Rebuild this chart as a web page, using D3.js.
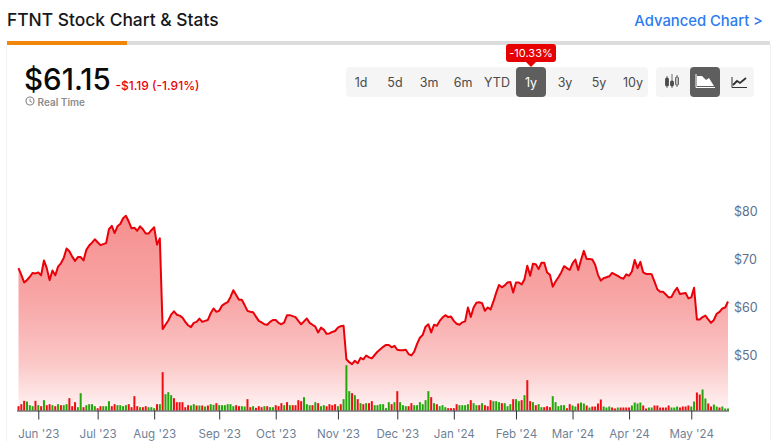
<!DOCTYPE html>
<html>
<head>
<meta charset="utf-8">
<title>FTNT Stock Chart</title>
<script src="https://cdn.jsdelivr.net/npm/d3@7"></script>
<style>
  html, body { margin: 0; padding: 0; background: #fff; overflow: hidden; }
  text { font-family: Inter, "Noto Sans", sans-serif; }
  .axis path, .axis line { stroke: #2f3338; }
  .axis text { fill: #707f96; font-size: 11.6px; }
  .axis.price text { fill: #5c6f8c; font-size: 12.5px; }
</style>
</head>
<body>
<svg id="chart" width="773" height="441"></svg>
<script>
// closing price per trading day
const prices = [
  68.1, 66.7, 65.1, 65.6, 66.3, 67.1, 67.0, 67.2, 66.6, 69.7,
  68.1, 65.6, 67.6, 66.6, 68.4, 69.1, 70.2, 72.2, 71.6, 70.5,
  69.6, 70.4, 70.4, 69.7, 71.9, 72.8, 73.4, 74.1, 73.5, 72.9,
  73.1, 73.3, 76.2, 76.9, 75.4, 76.8, 77.3, 78.5, 79.0, 77.8,
  76.4, 76.5, 75.9, 76.8, 76.2, 75.3, 75.3, 76.0, 76.6, 73.0,
  74.3, 55.4, 56.3, 57.2, 58.4, 59.1, 58.4, 58.2, 57.8, 56.9,
  56.2, 55.8, 56.7, 56.9, 57.6, 56.9, 57.1, 57.3, 58.7, 59.7,
  59.0, 59.2, 60.3, 60.7, 61.0, 62.1, 63.5, 62.5, 61.5, 61.5,
  60.4, 59.2, 59.0, 58.9, 58.0, 57.1, 56.8, 56.4, 56.3, 56.9,
  57.3, 57.3, 56.7, 56.4, 56.8, 58.3, 58.3, 58.1, 57.9, 57.1,
  56.4, 57.0, 57.6, 56.7, 56.3, 55.9, 54.7, 55.7, 55.3, 54.4,
  54.5, 54.8, 55.0, 55.7, 56.0, 56.1, 49.1, 48.5, 48.1, 48.8,
  48.3, 49.4, 49.1, 49.9, 49.5, 49.3, 50.0, 50.7, 51.2, 51.7,
  52.1, 52.1, 51.6, 51.9, 51.1, 51.0, 51.0, 51.1, 50.2, 49.9,
  50.7, 52.3, 53.6, 54.2, 55.9, 56.4, 54.7, 56.3, 56.1, 57.1,
  57.8, 58.3, 57.9, 58.0, 57.1, 56.5, 56.3, 56.8, 57.0, 59.9,
  57.9, 59.9, 60.9, 61.0, 60.8, 59.2, 59.9, 59.5, 61.1, 63.0,
  64.6, 64.1, 64.5, 65.1, 65.2, 63.0, 65.1, 65.1, 64.7, 65.8,
  68.6, 66.5, 69.0, 68.9, 67.9, 69.2, 69.2, 67.2, 66.7, 64.2,
  65.3, 66.2, 67.2, 68.5, 68.1, 67.7, 69.1, 69.9, 67.7, 69.8,
  71.7, 70.0, 70.0, 69.9, 68.8, 66.7, 65.5, 66.0, 66.2, 66.4,
  67.1, 66.8, 66.5, 66.1, 65.9, 66.8, 66.5, 67.4, 69.8, 68.1,
  69.4, 67.2, 66.9, 66.9, 66.8, 65.3, 63.7, 63.2, 63.2, 62.6,
  62.0, 62.1, 63.2, 64.0, 62.7, 62.8, 62.9, 61.8, 62.0, 64.0,
  57.4, 57.4, 57.9, 58.2, 57.4, 56.7, 57.3, 58.6, 59.0, 59.7,
  59.9, 61.15
];

// traded volume in millions of shares
const volumes = [
  5.2, 7.6, 11.6, 10.8, 6.4, 5.2, 11.6, 6.4, 5.2, 12.4,
  6.4, 7.6, 6.4, 5.2, 7.6, 6.4, 6.4, 7.6, 14.8, 5.2,
  10, 4, 20.8, 4, 6.4, 7.6, 7.6, 5.2, 2.8, 5.2,
  5.2, 5.2, 11.2, 5.2, 7.6, 6.4, 6.4, 5.2, 6.4, 7.6,
  4, 17.2, 5.2, 4, 4, 5.2, 4, 4, 2.8, 7.6,
  7.6, 46, 19.6, 22, 18.4, 14.8, 10, 10, 10, 4,
  6.4, 6, 7.6, 6, 6, 6, 4.8, 6, 7.6, 6.8,
  8.8, 6.4, 6.4, 6.4, 7.6, 7.6, 5.2, 6.4, 5.2, 5.2,
  4.8, 13.6, 4, 5.2, 3.2, 5.2, 4, 5.2, 5.2, 4,
  4, 6.4, 5.2, 8.8, 6.4, 10, 6.4, 6.4, 6.4, 12.4,
  11.2, 16, 7.6, 6.4, 6.4, 10, 8.8, 5.2, 6.4, 5.2,
  7.6, 6.4, 7.6, 5.2, 7.6, 13.6, 54.4, 23.2, 20.8, 18.4,
  13.6, 8.8, 7.6, 8.8, 8.8, 11.2, 6.4, 6.4, 7.6, 7.6,
  2.8, 10, 7.6, 10, 23.2, 10, 6.4, 5.2, 5.2, 8.8,
  6.4, 6.4, 10, 7.6, 12.4, 23.2, 16, 8.8, 7.6, 5.2,
  6.4, 4, 2.8, 2.8, 2.8, 7.6, 6.4, 6.4, 6.4, 7.6,
  12.4, 8.8, 6.4, 6.4, 8.8, 6.4, 5.2, 12.4, 11.2, 11.2,
  10, 8.8, 8.8, 5.2, 7.6, 13.6, 13.6, 11.2, 12.4, 18.4,
  36.4, 11.2, 10, 6.4, 7.6, 4, 4, 5.2, 4, 17.2,
  10, 5.2, 6.4, 6.4, 2.8, 7.6, 6, 4.8, 8.4, 9.6,
  8.4, 6, 3.6, 4.8, 4.8, 8.4, 13.2, 4.8, 3.6, 4.8,
  3.6, 2.4, 3.6, 3.6, 3.6, 3.6, 3.6, 6, 9.6, 8.4,
  9.6, 6, 2.4, 3.6, 3.6, 6, 6, 3.6, 3.6, 3.6,
  6, 3.6, 3.6, 4.8, 3.6, 4.8, 4.8, 6, 4.8, 10.8,
  21.6, 19.2, 25.2, 14.4, 8.4, 4.8, 7.2, 4.8, 3.6, 4.8,
  2.4, 2.4
];

// r = down day, g = up day, one letter per volume bar
const volumeDirs = (
  "rrrgggrgrg" + "rrgrgrggrr" + "rggrggggrr" + "gggrrggggr" + "rrrgrrgggr" +
  "grgggrrrrr" + "rggrgrgrgg" + "rggggggrrg" + "grrgrrrgrg" + "grrrgrgrrr" +
  "rgggrgrggr" + "rrrgrgggrg" + "rgrgrrgggg" + "ggrgrgggrr" + "ggggggrgrg" +
  "ggrrrrgggg" + "rggrgrrrgg" + "grgggrggrg" + "rrgrggrrrg" + "ggggrrggrg" +
  "grgrrrrggg" + "rrgrrrrggg" + "grrggrrrrr" + "rgggrrrrgg" + "rrggrrggrg" + "gg"
).split("");

const monthTicks = [7, 28, 48, 71, 91, 113, 134, 154, 176, 196, 216, 238];
const monthLabels = ["Jun '23", "Jul '23", "Aug '23", "Sep '23", "Oct '23", "Nov '23",
  "Dec '23", "Jan '24", "Feb '24", "Mar '24", "Apr '24", "May '24"];
const priceTicks = [50, 60, 70, 80];
const rangeLabels = ["1d", "5d", "3m", "6m", "YTD", "1y", "3y", "5y", "10y"];

const RED = "#ea0009";
const svg = d3.select("#chart");

// page frame
svg.append("rect").attr("x", 6).attr("y", 45).attr("width", 1).attr("height", 396).attr("fill", "#f1f1f1");
svg.append("rect").attr("x", 770).attr("y", 45).attr("width", 1).attr("height", 396).attr("fill", "#f1f1f1");
svg.append("rect").attr("x", 7).attr("y", 41).attr("width", 763).attr("height", 4).attr("fill", "#dcdcdc");
svg.append("rect").attr("x", 7).attr("y", 41).attr("width", 120).attr("height", 4).attr("fill", "#f0860a");

svg.append("text").attr("x", 7).attr("y", 26)
  .attr("font-size", 17.4).attr("font-weight", 500).attr("fill", "#15181c")
  .text("FTNT Stock Chart & Stats");
svg.append("text").attr("x", 763).attr("y", 26).attr("text-anchor", "end")
  .attr("font-size", 14.8).attr("font-weight", 500).attr("fill", "#2b7cf0")
  .text("Advanced Chart >");

// quote
svg.append("text").attr("x", 24).attr("y", 90)
  .attr("font-size", 29.5).attr("font-weight", 500).attr("fill", "#0a0a0a").text("$61.15");
svg.append("text").attr("x", 115.5).attr("y", 90)
  .attr("font-size", 12).attr("font-weight", 500).attr("fill", RED).text("-$1.19 (-1.91%)");
svg.append("circle").attr("cx", 30).attr("cy", 101).attr("r", 4)
  .attr("fill", "none").attr("stroke", "#8a8a8a").attr("stroke-width", 1.2);
svg.append("path").attr("d", "M30 98.8V101.3L32 102.3").attr("fill", "none").attr("stroke", "#8a8a8a");
svg.append("text").attr("x", 37.5).attr("y", 105.5)
  .attr("font-size", 10).attr("font-weight", 600).attr("fill", "#8c8c8c").text("Real Time");

// range buttons
const rangeX = d3.scalePoint().domain(rangeLabels).range([361, 633]);
svg.append("rect").attr("x", 346).attr("y", 67).attr("width", 302).attr("height", 30).attr("rx", 4).attr("fill", "#f5f5f5");
svg.append("rect").attr("x", 516).attr("y", 67).attr("width", 30).attr("height", 30).attr("rx", 4).attr("fill", "#5e5e5e");
svg.selectAll(".range").data(rangeLabels).enter().append("text")
  .attr("class", "range")
  .attr("x", d => rangeX(d)).attr("y", 86.5)
  .attr("text-anchor", "middle").attr("font-size", 12.5)
  .attr("fill", d => d === "1y" ? "#fff" : "#4a4a4a")
  .text(d => d);

// -10.33% flag above the active button
svg.append("rect").attr("x", 506).attr("y", 44).attr("width", 50).attr("height", 18).attr("rx", 3).attr("fill", "#e60000");
svg.append("path").attr("d", "M526 62H536L531 67Z").attr("fill", "#e60000");
svg.append("text").attr("x", 531).attr("y", 57).attr("text-anchor", "middle")
  .attr("font-size", 11).attr("fill", "#fff").text("-10.33%");

// chart type buttons
svg.append("rect").attr("x", 656).attr("y", 67).attr("width", 98).attr("height", 30).attr("rx", 4).attr("fill", "#f5f5f5");
svg.append("rect").attr("x", 690).attr("y", 67).attr("width", 30).attr("height", 30).attr("rx", 4).attr("fill", "#5e5e5e");
const candles = svg.append("g").attr("fill", "#4a4a4a").attr("stroke", "#4a4a4a").attr("stroke-width", 0.8);
candles.append("path").attr("d", "M667 76V88M672 74V88M677 75V87");
candles.append("rect").attr("x", 665.5).attr("y", 78).attr("width", 3).attr("height", 8).attr("rx", 1);
candles.append("rect").attr("x", 670.5).attr("y", 81).attr("width", 3).attr("height", 5).attr("rx", 1);
candles.append("rect").attr("x", 675.5).attr("y", 77).attr("width", 3).attr("height", 8).attr("rx", 1).attr("fill", "#bdbdbd");
svg.append("path").attr("d", "M697 76L702 76L706 80L709 78L714 86H697Z").attr("fill", "#fff");
svg.append("path").attr("d", "M696 74V87.5H715").attr("fill", "none").attr("stroke", "#fff").attr("stroke-width", 1);
svg.append("path").attr("d", "M733 85L737 81L740 83L746 78").attr("fill", "none").attr("stroke", "#333").attr("stroke-width", 1.8);
svg.append("path").attr("d", "M732 77V87.5H747").attr("fill", "none").attr("stroke", "#333").attr("stroke-width", 1);

// scales
const x = d3.scaleLinear().domain([0, prices.length - 1]).range([18.5, 728]);
const yPrice = d3.scaleLinear().domain([50, 80]).range([355, 211]);
const baseY = 410.5;
const yVol = d3.scaleLinear().domain([0, 60]).range([baseY, baseY - 50]);

const grad = svg.append("defs").append("linearGradient")
  .attr("id", "areaFill").attr("gradientUnits", "userSpaceOnUse")
  .attr("x1", 0).attr("x2", 0).attr("y1", 216).attr("y2", baseY);
[[0, "#f68f8f"], [0.43, "#f8a6a6"], [0.75, "#fbc6c6"], [1, "#fff4f4"]].forEach(s => {
  grad.append("stop").attr("offset", s[0]).attr("stop-color", s[1]);
});

svg.append("path").datum(prices)
  .attr("fill", "url(#areaFill)")
  .attr("d", d3.area().x((d, i) => x(i)).y0(baseY).y1(d => yPrice(d)));

svg.append("path").datum(prices)
  .attr("fill", "none").attr("stroke", RED).attr("stroke-width", 2).attr("stroke-linejoin", "round")
  .attr("d", d3.line().x((d, i) => x(i)).y(d => yPrice(d)));

// volume bars
svg.selectAll(".vol").data(volumes).enter().append("rect")
  .attr("class", "vol")
  .attr("x", (d, i) => x(i) - 1)
  .attr("y", d => yVol(d))
  .attr("width", 2)
  .attr("height", d => baseY - yVol(d))
  .attr("fill", (d, i) => volumeDirs[i] === "r" ? "#f20d12" : "#22a80a");

// axes
svg.append("g").attr("class", "axis")
  .attr("transform", "translate(0," + baseY + ")")
  .call(d3.axisBottom(x).tickValues(monthTicks).tickSize(9).tickPadding(10)
    .tickFormat((d, i) => monthLabels[i]))
  .call(g => g.select(".domain").attr("d", "M17,0.5H729"));

svg.append("g").attr("class", "axis price")
  .attr("transform", "translate(734,0)")
  .call(d3.axisRight(yPrice).tickValues(priceTicks).tickSize(0).tickPadding(0)
    .tickFormat(d => "$" + d))
  .call(g => g.select(".domain").remove());
</script>
</body>
</html>
